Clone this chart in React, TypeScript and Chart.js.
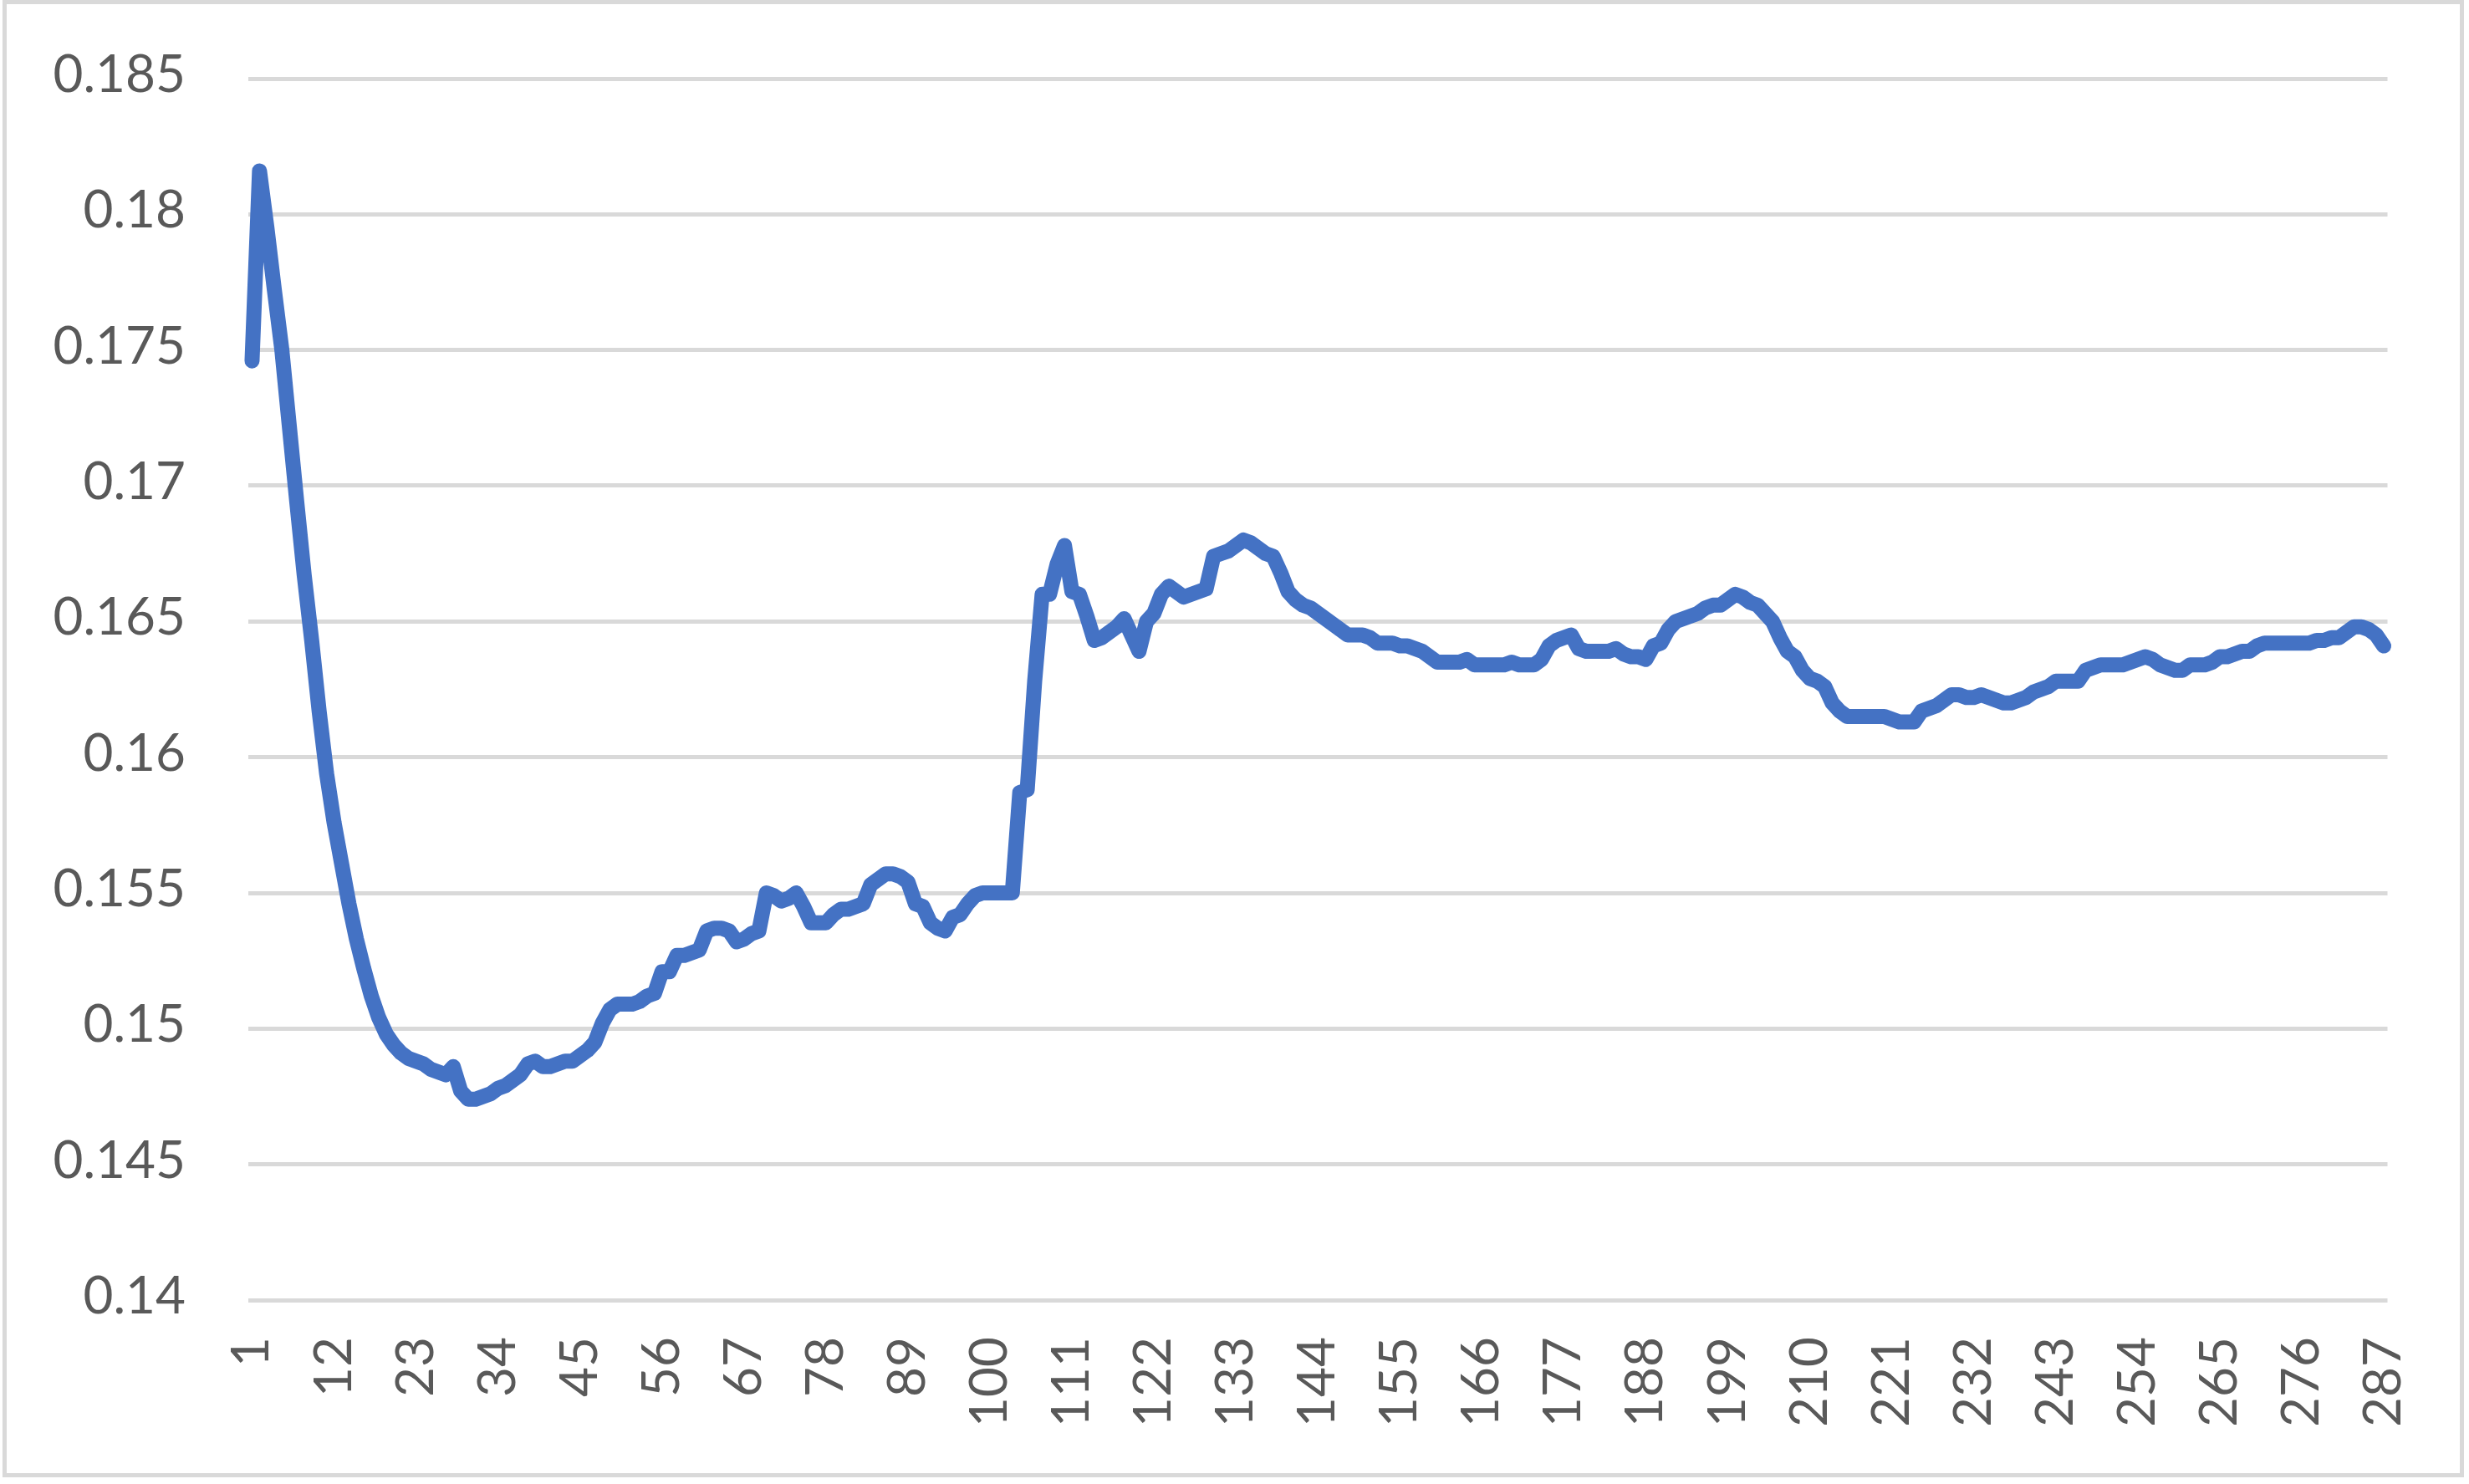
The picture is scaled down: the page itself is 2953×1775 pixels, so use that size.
import React, { useEffect, useRef } from 'react';
import { Chart, registerables } from 'chart.js';

Chart.register(...registerables);

const categories: string[] = Array.from({ length: 287 }, (_, i) => String(i + 1));

const xTickLabels: string[] = [
  '1', '12', '23', '34', '45', '56', '67', '78', '89', '100', '111', '122', '133', '144',
  '155', '166', '177', '188', '199', '210', '221', '232', '243', '254', '265', '276', '287',
];

const yTickValues: number[] = [0.14, 0.145, 0.15, 0.155, 0.16, 0.165, 0.17, 0.175, 0.18, 0.185];
const yTickLabels: string[] = ['0.14', '0.145', '0.15', '0.155', '0.16', '0.165', '0.17', '0.175', '0.18', '0.185'];

const seriesValues: number[] = [
  0.1746, 0.1816, 0.1795, 0.1772, 0.1750, 0.1722, 0.1694, 0.1667, 0.1643, 0.1617,
  0.1594, 0.1576, 0.1561, 0.1546, 0.1533, 0.1522, 0.1512, 0.1504, 0.1498, 0.1494,
  0.1491, 0.1489, 0.1488, 0.1487, 0.1485, 0.1484, 0.1483, 0.1486, 0.1477, 0.1474,
  0.1474, 0.1475, 0.1476, 0.1478, 0.1479, 0.1481, 0.1483, 0.1487, 0.1488, 0.1486,
  0.1486, 0.1487, 0.1488, 0.1488, 0.1490, 0.1492, 0.1495, 0.1502, 0.1507, 0.1509,
  0.1509, 0.1509, 0.1510, 0.1512, 0.1513, 0.1521, 0.1521, 0.1527, 0.1527, 0.1528,
  0.1529, 0.1536, 0.1537, 0.1537, 0.1536, 0.1532, 0.1533, 0.1535, 0.1536, 0.1550,
  0.1549, 0.1547, 0.1548, 0.1550, 0.1545, 0.1539, 0.1539, 0.1539, 0.1542, 0.1544,
  0.1544, 0.1545, 0.1546, 0.1553, 0.1555, 0.1557, 0.1557, 0.1556, 0.1554, 0.1546,
  0.1545, 0.1539, 0.1537, 0.1536, 0.1541, 0.1542, 0.1546, 0.1549, 0.1550, 0.1550,
  0.1550, 0.1550, 0.1550, 0.1587, 0.1588, 0.1628, 0.1660, 0.1660, 0.1671, 0.1678,
  0.1661, 0.1660, 0.1652, 0.1643, 0.1644, 0.1646, 0.1648, 0.1651, 0.1645, 0.1639,
  0.1650, 0.1653, 0.1660, 0.1663, 0.1661, 0.1659, 0.1660, 0.1661, 0.1662, 0.1674,
  0.1675, 0.1676, 0.1678, 0.1680, 0.1679, 0.1677, 0.1675, 0.1674, 0.1668, 0.1661,
  0.1658, 0.1656, 0.1655, 0.1653, 0.1651, 0.1649, 0.1647, 0.1645, 0.1645, 0.1645,
  0.1644, 0.1642, 0.1642, 0.1642, 0.1641, 0.1641, 0.1640, 0.1639, 0.1637, 0.1635,
  0.1635, 0.1635, 0.1635, 0.1636, 0.1634, 0.1634, 0.1634, 0.1634, 0.1634, 0.1635,
  0.1634, 0.1634, 0.1634, 0.1636, 0.1641, 0.1643, 0.1644, 0.1645, 0.1640, 0.1639,
  0.1639, 0.1639, 0.1639, 0.1640, 0.1638, 0.1637, 0.1637, 0.1636, 0.1641, 0.1642,
  0.1647, 0.1650, 0.1651, 0.1652, 0.1653, 0.1655, 0.1656, 0.1656, 0.1658, 0.1660,
  0.1659, 0.1657, 0.1656, 0.1653, 0.1650, 0.1644, 0.1639, 0.1637, 0.1632, 0.1629,
  0.1628, 0.1626, 0.1620, 0.1617, 0.1615, 0.1615, 0.1615, 0.1615, 0.1615, 0.1615,
  0.1614, 0.1613, 0.1613, 0.1613, 0.1617, 0.1618, 0.1619, 0.1621, 0.1623, 0.1623,
  0.1622, 0.1622, 0.1623, 0.1622, 0.1621, 0.1620, 0.1620, 0.1621, 0.1622, 0.1624,
  0.1625, 0.1626, 0.1628, 0.1628, 0.1628, 0.1628, 0.1632, 0.1633, 0.1634, 0.1634,
  0.1634, 0.1634, 0.1635, 0.1636, 0.1637, 0.1636, 0.1634, 0.1633, 0.1632, 0.1632,
  0.1634, 0.1634, 0.1634, 0.1635, 0.1637, 0.1637, 0.1638, 0.1639, 0.1639, 0.1641,
  0.1642, 0.1642, 0.1642, 0.1642, 0.1642, 0.1642, 0.1642, 0.1643, 0.1643, 0.1644,
  0.1644, 0.1646, 0.1648, 0.1648, 0.1647, 0.1645, 0.1641,
];

const FONT = { family: 'Lato, Calibri, Carlito, sans-serif', size: 62 };

export default function App() {
  const ref = useRef<HTMLCanvasElement>(null);

  useEffect(() => {
    document.body.style.margin = '0';
    const canvas = ref.current;
    if (!canvas) return;
    const chart = new Chart(canvas, {
      type: 'line',
      data: {
        labels: categories,
        datasets: [
          {
            data: seriesValues,
            borderColor: '#4472C4',
            backgroundColor: '#4472C4',
            borderWidth: 18,
            pointRadius: 0,
            pointHoverRadius: 0,
            tension: 0,
            fill: false,
            borderJoinStyle: 'round',
            borderCapStyle: 'round',
          },
        ],
      },
      options: {
        responsive: false,
        animation: false,
        devicePixelRatio: 1,
        layout: { padding: { top: 94, right: 97.5, bottom: 0, left: 0 } },
        plugins: { legend: { display: false }, tooltip: { enabled: false }, title: { display: false } },
        scales: {
          x: {
            type: 'category',
            offset: true,
            grid: { display: false, drawTicks: false },
            border: { display: false },
            ticks: {
              autoSkip: false,
              minRotation: 90,
              maxRotation: 90,
              padding: 44,
              color: '#595959',
              font: FONT,
              callback: (_v: any, index: number) => {
                const l = categories[index];
                return xTickLabels.includes(l) ? l : null;
              },
            },
            afterFit: (s: any) => {
              s.height = 220;
              s.paddingLeft = 0;
              s.paddingRight = 0;
            },
          },
          y: {
            min: 0.14,
            max: 0.185,
            grid: { color: '#d9d9d9', lineWidth: 5, drawTicks: false },
            border: { display: false },
            afterBuildTicks: (s: any) => {
              s.ticks = yTickValues.map((v) => ({ value: v }));
            },
            ticks: {
              padding: 75,
              color: '#595959',
              font: FONT,
              labelOffset: -4,
              callback: (_v: any, index: number) => yTickLabels[index],
            },
            afterFit: (s: any) => {
              s.width = 297;
              s.paddingTop = 0;
              s.paddingBottom = 0;
            },
          },
        },
      },
    });
    return () => chart.destroy();
  }, []);

  return (
    <div style={{ position: 'relative', width: 2953, height: 1775, overflow: 'hidden', background: '#ffffff' }}>
      <canvas ref={ref} width={2953} height={1775} style={{ display: 'block', width: 2953, height: 1775 }} />
      <div
        style={{
          position: 'absolute',
          left: 3,
          top: 0,
          width: 2944,
          height: 1767,
          border: '5px solid #d9d9d9',
          boxSizing: 'border-box',
          pointerEvents: 'none',
        }}
      />
    </div>
  );
}
